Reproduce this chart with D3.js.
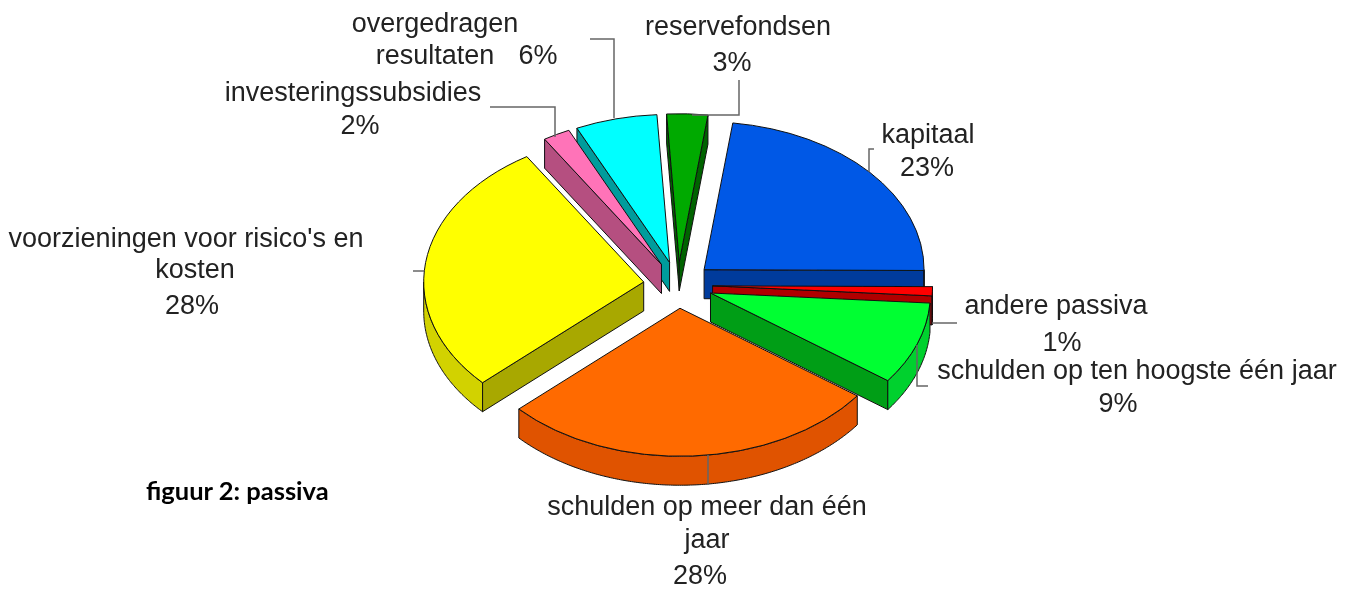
<!DOCTYPE html>
<html>
<head>
<meta charset="utf-8">
<script src="https://cdn.jsdelivr.net/npm/d3@7"></script>
<style>
html, body { margin: 0; padding: 0; background: #fff; overflow: hidden; }
text { font-family: "Liberation Sans", Arial, sans-serif; fill: #222; }
</style>
</head>
<body>
<svg id="chart"></svg>
<script>
const categories = ["kapitaal", "andere passiva", "schulden op ten hoogste één jaar", "schulden op meer dan één jaar", "voorzieningen voor risico's en kosten", "investeringssubsidies", "overgedragen resultaten", "reservefondsen"];
const shares = [23, 1, 9, 28, 28, 2, 6, 3];
const topColors = ["#0059e6", "#ff0000", "#00ff33", "#ff6a00", "#ffff00", "#ff73b8", "#00ffff", "#00aa00"];
const wallColors = ["#003a9c", "#b00000", "#009e12", "#e05200", "#a8a800", "#b54f80", "#009c9c", "#006400"];
const rimColors = ["#003a9c", "#600000", "#00d12e", "#e05200", "#d2d200", "#b54f80", "#009c9c", "#006400"];
// back to front, so that the nearer pieces cover the others
const drawOrder = [7, 6, 5, 4, 0, 1, 2, 3];

const width = 1351, height = 590;
const cx = 678, cy = 285, rx = 220, ry = 148;
const explode = 34.6, depth = 29;
const startAngle = 7.5 * Math.PI / 180;
const tau = 2 * Math.PI;

const svg = d3.select("#chart").attr("width", width).attr("height", height);
// the reference is a soft, upscaled image
const soft = svg.append("filter").attr("id", "soft").attr("x", 0).attr("y", 0).attr("width", 1).attr("height", 1);
soft.append("feGaussianBlur").attr("stdDeviation", 0.6);

const pie = d3.pie().sort(null).startAngle(startAngle).endAngle(startAngle + tau);
const arcs = pie(shares);
const arcGen = d3.arc().innerRadius(0).outerRadius(rx);
const line = d3.line();

// apex of a piece after pulling it out along its middle angle
const apexOf = (d) => {
    const mid = (d.startAngle + d.endAngle) / 2;
    return [cx + explode * Math.sin(mid), cy - explode * Math.cos(mid) * ry / rx];
};
const edge = (apex, a) => [apex[0] + rx * Math.sin(a), apex[1] - ry * Math.cos(a)];

const pieGroup = svg.append("g").attr("id", "pie").attr("filter", "url(#soft)");
for (const i of drawOrder) {
    const d = arcs[i];
    const apex = apexOf(d);
    const group = pieGroup.append("g").attr("id", `piece-${i}`)
        .attr("stroke", "#111").attr("stroke-width", 1).attr("stroke-linejoin", "round");
    // only the cut faces that look at the viewer
    const faces = [];
    if ((d.startAngle % tau) > Math.PI) faces.push(d.startAngle);
    if ((d.endAngle % tau) < Math.PI) faces.push(d.endAngle);
    for (const a of faces) {
        const p = edge(apex, a);
        group.append("path")
            .attr("d", line([apex, p, [p[0], p[1] + depth], [apex[0], apex[1] + depth]]) + "Z")
            .attr("fill", wallColors[i]);
    }
    // the rim is only seen on the front half
    const from = Math.max(d.startAngle, Math.PI / 2);
    const to = Math.min(d.endAngle, 3 * Math.PI / 2);
    if (to > from) {
        const rim = d3.area()
            .x(a => edge(apex, a)[0])
            .y0(a => edge(apex, a)[1])
            .y1(a => edge(apex, a)[1] + depth);
        group.append("path")
            .attr("d", rim(d3.range(from, to, 0.01).concat(to)))
            .attr("fill", rimColors[i]);
    }
    group.append("path")
        .attr("d", arcGen(d))
        .attr("transform", `translate(${apex[0]},${apex[1]}) scale(1,${ry / rx})`)
        .attr("vector-effect", "non-scaling-stroke")
        .attr("fill", topColors[i]);
}

const leaders = [
    [[869, 172], [869, 149], [874, 149]],
    [[932, 323], [957, 323]],
    [[917, 345], [917, 386], [928, 386]],
    [[708, 455], [708, 485]],
    [[413, 271], [424, 271]],
    [[490, 107], [555, 107], [555, 137]],
    [[614, 118], [614, 39], [590, 39]],
    [[692, 115], [739, 115], [739, 80]]
];
svg.append("g").attr("id", "leaders")
    .selectAll("path")
    .data(leaders)
    .enter()
    .append("path")
    .attr("d", d => line(d))
    .attr("fill", "none")
    .attr("stroke", "#666")
    .attr("stroke-width", 1.5);

const labelLines = [
    ["kapitaal", 928, 143], ["23%", 927, 176],
    ["andere passiva", 1056, 314], ["1%", 1062, 351],
    ["schulden op ten hoogste één jaar", 1137, 379], ["9%", 1118, 412],
    ["schulden op meer dan één", 707, 515], ["jaar", 707, 548], ["28%", 700, 584],
    ["voorzieningen voor risico's en", 186, 247], ["kosten", 195, 278], ["28%", 192, 314],
    ["investeringssubsidies", 353, 101], ["2%", 360, 134],
    ["overgedragen", 435, 32], ["resultaten", 435, 64], ["6%", 538, 64],
    ["reservefondsen", 738, 35], ["3%", 732, 71]
];
svg.append("g").attr("id", "labels")
    .selectAll("text")
    .data(labelLines)
    .enter()
    .append("text")
    .attr("x", d => d[1])
    .attr("y", d => d[2])
    .attr("text-anchor", "middle")
    .attr("font-size", 27)
    .text(d => d[0]);

svg.append("text")
    .attr("x", 146)
    .attr("y", 500)
    .attr("font-size", 25.5)
    .attr("font-weight", "bold")
    .style("font-family", "Lato, sans-serif")
    .style("fill", "#000")
    .text("figuur 2: passiva");
</script>
</body>
</html>
